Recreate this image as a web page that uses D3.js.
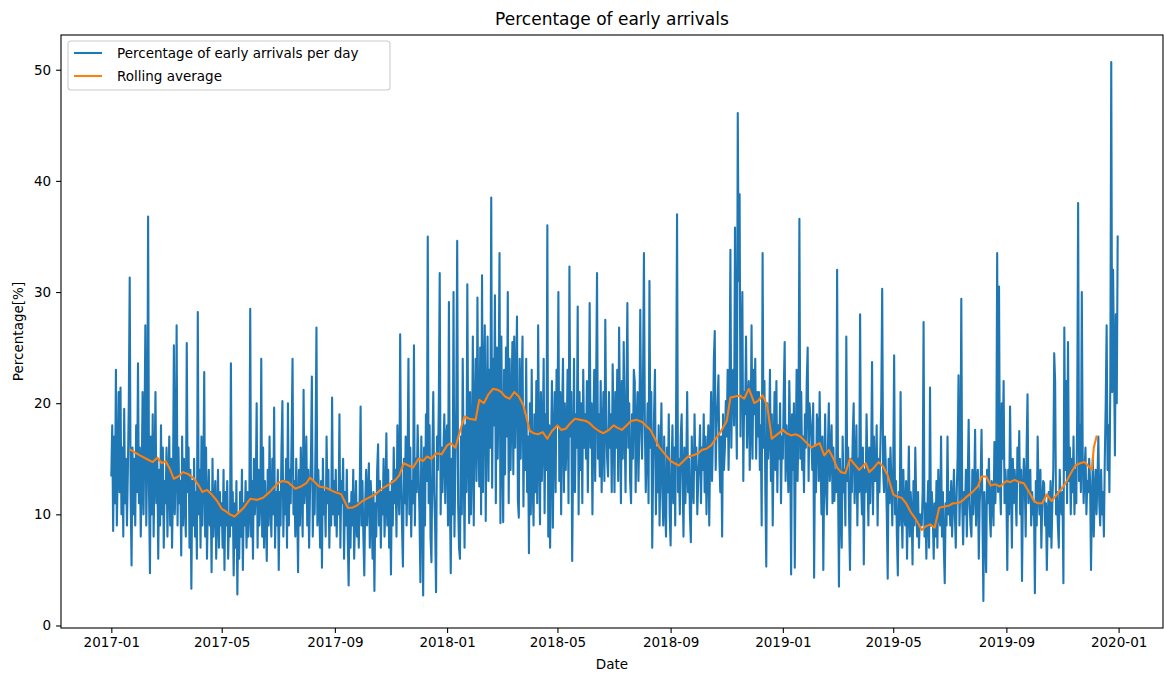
<!DOCTYPE html>
<html><head><meta charset="utf-8">
<script src="https://cdn.jsdelivr.net/npm/d3@7"></script>
<style>body{margin:0;background:#fff}svg{display:block}text{font-family:"DejaVu Sans",sans-serif;fill:#000}</style>
</head><body><svg id="c" width="1164" height="675"></svg>
<script>
// ---------------- data ----------------
const chartTitle = "Percentage of early arrivals";
const xLabel = "Date";
const yLabel = "Percentage[%]";
const seriesNames = ["Percentage of early arrivals per day", "Rolling average"];
const firstDay = "2017-01-01";
const yTicks = [0, 10, 20, 30, 40, 50];

const daily2017 = [
13.5,18,8.5,17,11,23,9,14,21,12,21.4,10,16,8,19.5,11,15,9,14,20,31.3,12,5.4,16,10,15,9,18,12,23.6,11,
16,8,13,21,10,17,27,9,15,36.8,12,4.7,17,10,19,8,14,21,11,15,6,14,9,18,10,16,7,13,
11,16,8,13,17,9,15,7,12,25.2,10,14,27,9,16,11,13,6.3,17,9,15,11,8,25.4,12,16,7,14,3.3,13,9,
15,8,12,6,28.2,10,14,7,17,9,13,22.8,8,16,6,11,14,9,12,4.8,15,8,11,13,6,10,14,7,12,9,
11,7,14,5,12,9,13,6,10,8,23.6,9,12,4.5,11,7,13,2.8,10,6,12,8,14,5,11,9,13,7,12,8,10,
28.5,8,13,6,15,10,12,20,7,14,9,11,24,8,16,7,13,10,5.8,14,9,17,11,8,15,10,19.6,7,12,9,
14,5,12,9,16,20.2,8,13,10,15,7,20,9,14,11,17,24,10,13,8,15,11,4.8,14,9,16,12,8,21.2,11,13,
17,9,14,7,12,15,22.4,8,13,10,16,26.8,9,14,11,7,13,5.2,15,10,12,8,17,11,14,7,12,9,20.5,10,13,
9,14,8,12,10,19,7,13,11,15,6,12,9,14,8,3.6,11,7,12,9,14,6,10,13,8,11,7,12,19.7,9,
13,8,4.5,11,14,9,12,14.6,7,13,10,6,12,3.1,11,8,14,16.3,9,13,7,12,10,15,8,11,17.3,9,14,7,12,
4.6,13,9,16,11,14,8,18,12,10,26.2,13,9,5.3,15,11,17,9,14,24,10,16,8,13,11,25.2,9,15,12,18,
14,10,3.9,17,12,2.7,16,9,19,13,35,11,18,8,5.7,15,21,12,9,3.0,17,14,20,31.7,10,16,12,15.7,19,11,17
];
const daily2018 = [
18,9,29.1,12,4.7,15,10,30,8,14,20,34.6,11,7,6,17,10,24,15.3,7,18,12,30.7,16,9.2,21,10,15,26,9,19,
24,13,29.5,17,12.5,25,10,31.5,12,22,27,9.4,19,26,13,23,16,38.5,12.4,24,18,29.7,11,25,15,21,33.5,9.2,
26,16,9.3,23,13.6,25,17,30,11,24,14,20,25.5,13.6,26,16,22,27.8,11.2,9.7,24,15,21,26,10.7,19,14,24,12,17,6.5,
20,10,23,13,9,19,12,22,11,27,16,9.1,21,13,17,24,10.1,19,14,36,8,18,7,16,22,8.8,17,21,12,23,
18,30,13,21,10,19,24,12,20,14,17,23,11,32.3,17,21,5.8,15,24,12,19,16,28.7,10,21,14,20,11,23,16,19,
15,22,12,19,29,16,20,10,18,23,13,21,31.7,15,19,13.4,22,12,17,21,13,27.5,18,15,13.4,21,16,19,12,23.5,
18,12,21,16,23,13,26.8,19,11,22,15,25.5,18,12,21,29,16,20,13,11,19,15,23,22,12,18,21,13,17,28.4,19,
15,22,33.5,18,12,16,20,11,31,16,21,7,14,19,23,10,16,12,18,9,15,20,12,9,17,11,8,16,12,19,10,
7.2,14,18,11,16,9,20,37,12,15,10,17,19,13,8,16,11,14,21,12,15,10,7.5,17,13,11,19,14,16,10,
13,15,18,11,16,14,19,12,17,10,15,18,9,16,21,13,17,24,26.5,14,18,20,22.5,15,12,17,8,19,14,16,20.2,
17,23,14,20,33.8,16,22,23,18,35.8,21,15,46.1,31,38.8,17,24,30,13,21,19,26,16,20,22,14,18,27,15,23,
19,24,15,21,17,21,14,18,9,33.5,16,22,12,5.3,20,15,17,23,13,19,9,16,21,14,22,12,18,15,20,11,17
];
const daily2019 = [
15,21,25.5,13,18,16,12,22,17,4.6,19,14,20,5.2,16,23,13,18,36.6,15,21,14,17,12,19,16,22,25,13,20,18.6,
17,14,20,4.3,16,12,19,18,13,21,15,10,17,5,14,19,12,10,16,20,13,15,18,11,16,11.2,14,12,
32,13,3.5,15,11,7,17,12,14,9,26,13,16,10,5,15,12,17,20,11,14,18,9,15,12,28,13,10,16,5.5,14,
12,19,14,9,16,11,15,23.7,10,17,13,13,18,9,15,12,16,20,30.3,14,12,17,14,10,4.2,15,11,16,13,9,
14,24.3,10,13,8,4.5,12,9,21,11,7,14,10,9,13,6,11,16.1,8,12,10,5.5,13,9,16,11,8,12,7,10,9,
9,12,27.3,8,11,6,10,13,7,21.4,9,12,10,6,11,8,13,7,14,10,9,17,8,12,7,3.8,11,9,17,10,
12,9,13,8,11,14,10,7,12,15,22.5,9,13,29.4,11,7.3,12,10,14,8,13,18.5,11,9,8,14,10,12,17.6,9,13,
14,6,11,13,17.6,10,2.2,12,9,4.8,14,11,15,10,8,13,12,9,16.5,11,14,33.5,12,30.5,13,10,20,15,22,11,14,
12,5,14,10,19.7,13,7,15,11,14,12,9,16,13,17.5,10,14,4,12,15,13,8,16,20.8,11,13,14,9,12,10,
11,2.9,13,9,17,12,10,14,7,11,13,12.8,9,11,5,10,12,8,13,7,11,14,24.5,22,10,12,9,7,14,11,10,
12,3.8,26.8,14,22,11,25.5,13,16,10,15,12,17,10,14,11,19,38,13,18,12,30,15,11,14,16,10,13,12,15,
13,5,11,15,8,12,14,10,13,17,11,9,14,10,12,8,15,20,27,14,18,12,22,50.7,21,32,24,15.3,28,20,35
];

const rollingDates = [
"2017-01-22","2017-02-01","2017-02-08","2017-02-15","2017-02-20","2017-02-25","2017-03-01","2017-03-05","2017-03-10","2017-03-15","2017-03-20","2017-03-26",
"2017-04-01","2017-04-06","2017-04-10","2017-04-15","2017-04-20","2017-04-26","2017-05-01","2017-05-05","2017-05-10","2017-05-15","2017-05-20","2017-05-25",
"2017-06-01","2017-06-08","2017-06-15","2017-06-22","2017-07-01","2017-07-06","2017-07-12","2017-07-20","2017-07-26","2017-08-01","2017-08-05","2017-08-10",
"2017-08-15","2017-08-22","2017-09-01","2017-09-08","2017-09-15","2017-09-20","2017-09-25","2017-10-01","2017-10-08","2017-10-15","2017-10-22","2017-11-01",
"2017-11-06","2017-11-10","2017-11-15","2017-11-20","2017-11-25","2017-12-01","2017-12-06","2017-12-10","2017-12-15","2017-12-20","2017-12-26",
"2018-01-01","2018-01-05","2018-01-10","2018-01-15","2018-01-20","2018-01-25","2018-02-01","2018-02-05","2018-02-10","2018-02-15","2018-02-20","2018-02-25",
"2018-03-01","2018-03-05","2018-03-10","2018-03-15","2018-03-20","2018-03-25","2018-04-01","2018-04-05","2018-04-10","2018-04-15","2018-04-20","2018-04-25",
"2018-05-01","2018-05-05","2018-05-10","2018-05-15","2018-05-20","2018-05-26","2018-06-01","2018-06-05","2018-06-10","2018-06-15","2018-06-20","2018-06-26",
"2018-07-01","2018-07-05","2018-07-10","2018-07-15","2018-07-20","2018-07-26","2018-08-01","2018-08-05","2018-08-10","2018-08-15","2018-08-20","2018-08-26",
"2018-09-01","2018-09-05","2018-09-10","2018-09-15","2018-09-20","2018-09-25","2018-10-01","2018-10-05","2018-10-10","2018-10-15","2018-10-20","2018-10-26",
"2018-11-01","2018-11-05","2018-11-10","2018-11-15","2018-11-20","2018-11-25","2018-12-01","2018-12-05","2018-12-10","2018-12-15","2018-12-20","2018-12-26",
"2019-01-01","2019-01-05","2019-01-10","2019-01-15","2019-01-20","2019-01-26","2019-02-01","2019-02-05","2019-02-10","2019-02-15","2019-02-20","2019-02-25",
"2019-03-01","2019-03-05","2019-03-10","2019-03-15","2019-03-20","2019-03-25","2019-04-01","2019-04-05","2019-04-10","2019-04-15","2019-04-20","2019-04-25",
"2019-05-01","2019-05-05","2019-05-10","2019-05-15","2019-05-20","2019-05-26","2019-06-01","2019-06-05","2019-06-10","2019-06-15","2019-06-20","2019-06-26",
"2019-07-01","2019-07-05","2019-07-10","2019-07-15","2019-07-20","2019-07-26","2019-08-01","2019-08-05","2019-08-10","2019-08-15","2019-08-20","2019-08-25",
"2019-09-01","2019-09-05","2019-09-10","2019-09-15","2019-09-20","2019-09-25","2019-10-01","2019-10-05","2019-10-10","2019-10-15","2019-10-20","2019-10-26",
"2019-11-01","2019-11-05","2019-11-10","2019-11-15","2019-11-20","2019-11-25","2019-12-01","2019-12-03","2019-12-05","2019-12-08"
];
const rollingValues = [
15.8,15.3,15.0,14.7,15.1,14.6,14.8,14.2,13.2,13.4,13.8,13.6,
13.2,12.6,12.0,12.2,11.8,11.2,10.5,10.3,10.0,9.8,10.2,10.6,
11.4,11.3,11.5,12.0,12.8,13.0,12.9,12.3,12.5,12.8,13.3,12.9,
12.5,12.4,12.0,11.8,10.6,10.6,10.8,11.2,11.5,11.8,12.3,12.8,
13.1,13.5,14.6,14.4,14.2,15.0,14.8,15.2,15.0,15.5,15.4,
16.2,16.4,16.0,17.5,18.8,18.6,18.5,20.3,20.0,20.8,21.3,21.2,
21.0,20.6,20.4,21.0,20.6,19.8,17.5,17.3,17.2,17.4,16.8,17.5,
18.0,17.6,17.7,18.2,18.6,18.5,18.4,18.2,17.8,17.5,17.3,17.6,
18.0,17.8,17.6,18.0,18.4,18.5,18.3,18.0,17.6,16.8,16.0,15.4,
14.8,14.6,14.4,14.8,15.2,15.3,15.5,15.8,15.9,16.2,16.8,17.5,
18.4,20.5,20.6,20.7,20.4,21.3,20.0,20.2,20.7,19.8,16.8,17.2,
17.6,17.3,17.1,17.2,17.0,16.5,16.0,16.2,16.4,15.3,15.8,15.0,
14.2,13.8,13.7,15.0,14.5,14.0,14.6,13.8,14.2,14.7,14.3,13.5,
11.8,11.6,11.5,11.0,10.2,9.5,8.6,8.9,9.1,8.8,10.6,10.7,
10.8,11.0,11.0,11.2,11.6,12.0,12.5,13.4,13.4,12.6,12.7,12.5,
13.0,12.9,13.1,12.9,12.8,12.1,11.2,11.0,11.0,11.8,11.2,11.8,
12.4,12.9,13.7,14.4,14.6,14.7,14.2,14.0,16.0,17.0
];

// ---------------- chart ----------------
const M = {left: 61, right: 1163, top: 35, bottom: 628};
const svg = d3.select("#c");
const parse = d3.utcParse("%Y-%m-%d");
const start = parse(firstDay);
const dailyValues = daily2017.concat(daily2018, daily2019);
const daily = dailyValues.map((v, i) => ({date: d3.utcDay.offset(start, i), value: v}));
const rolling = rollingDates.map((d, i) => ({date: parse(d), value: rollingValues[i]}));

// x: 5% margins around the data range (matplotlib default)
const xMin = daily[0].date, xMax = daily[daily.length - 1].date;
const span = xMax - xMin;
const x = d3.scaleUtc()
  .domain([new Date(+xMin - span * 0.05), new Date(+xMax + span * 0.05)])
  .range([M.left, M.right + 5]);
const yLo = d3.min(dailyValues), yHi = d3.max(dailyValues);
const yPad = (yHi - yLo) * 0.05;
const y = d3.scaleLinear().domain([yLo - yPad, yHi + yPad]).range([M.bottom, M.top]);

svg.append("clipPath").attr("id", "plotclip").append("rect")
  .attr("x", M.left).attr("y", M.top).attr("width", M.right - M.left).attr("height", M.bottom - M.top);

const line = d3.line().x(d => x(d.date)).y(d => y(d.value));
const g = svg.append("g").attr("clip-path", "url(#plotclip)");
g.append("path").datum(daily).attr("d", line)
  .attr("fill", "none").attr("stroke", "#1f77b4").attr("stroke-width", 2.1)
  .attr("stroke-linejoin", "round").attr("stroke-linecap", "square");
g.append("path").datum(rolling).attr("d", line)
  .attr("fill", "none").attr("stroke", "#ff7f0e").attr("stroke-width", 2.1)
  .attr("stroke-linejoin", "round").attr("stroke-linecap", "square");

// axes
const fs = 13.5;
const xAxis = d3.axisBottom(x).ticks(d3.utcMonth.every(4)).tickFormat(d3.utcFormat("%Y-%m")).tickSize(4.9).tickPadding(4.9);
const gx = svg.append("g").attr("transform", `translate(0,${M.bottom})`).call(xAxis);
gx.select(".domain").remove();
gx.selectAll(".tick").filter(d => x(d) < M.left || x(d) > M.right).remove();
gx.selectAll("text").attr("font-size", fs).attr("font-family", "DejaVu Sans").attr("fill", "#000");
gx.selectAll("line").attr("stroke", "#000").attr("stroke-width", 1.1);

const yAxis = d3.axisLeft(y).tickValues(yTicks).tickFormat(d3.format("d")).tickSize(4.9).tickPadding(4.9);
const gy = svg.append("g").attr("transform", `translate(${M.left},0)`).call(yAxis);
gy.select(".domain").remove();
gy.selectAll("text").attr("font-size", fs).attr("font-family", "DejaVu Sans").attr("fill", "#000");
gy.selectAll("line").attr("stroke", "#000").attr("stroke-width", 1.1);

// frame
svg.append("rect").attr("x", M.left).attr("y", M.top).attr("width", M.right - M.left).attr("height", M.bottom - M.top)
  .attr("fill", "none").attr("stroke", "#000").attr("stroke-width", 1.1);

// labels
svg.append("text").attr("x", (M.left + M.right) / 2).attr("y", 25).attr("text-anchor", "middle")
  .attr("font-size", 17).text(chartTitle);
svg.append("text").attr("x", (M.left + M.right) / 2).attr("y", 669).attr("text-anchor", "middle")
  .attr("font-size", fs).text(xLabel);
svg.append("text").attr("transform", `translate(23,${(M.top + M.bottom) / 2}) rotate(-90)`).attr("text-anchor", "middle")
  .attr("font-size", fs).text(yLabel);

// legend
const lg = svg.append("g").attr("transform", "translate(68,41)");
lg.append("rect").attr("width", 322).attr("height", 49).attr("rx", 3).attr("ry", 3)
  .attr("fill", "#fff").attr("fill-opacity", 0.8).attr("stroke", "#cccccc").attr("stroke-width", 1.1);
const legColors = ["#1f77b4", "#ff7f0e"];
seriesNames.forEach((name, i) => {
  const cy = 12 + i * 23;
  lg.append("line").attr("x1", 6).attr("x2", 34).attr("y1", cy).attr("y2", cy)
    .attr("stroke", legColors[i]).attr("stroke-width", 2.1);
  lg.append("text").attr("x", 49).attr("y", cy + 5).attr("font-size", fs).text(name);
});
</script></body></html>
